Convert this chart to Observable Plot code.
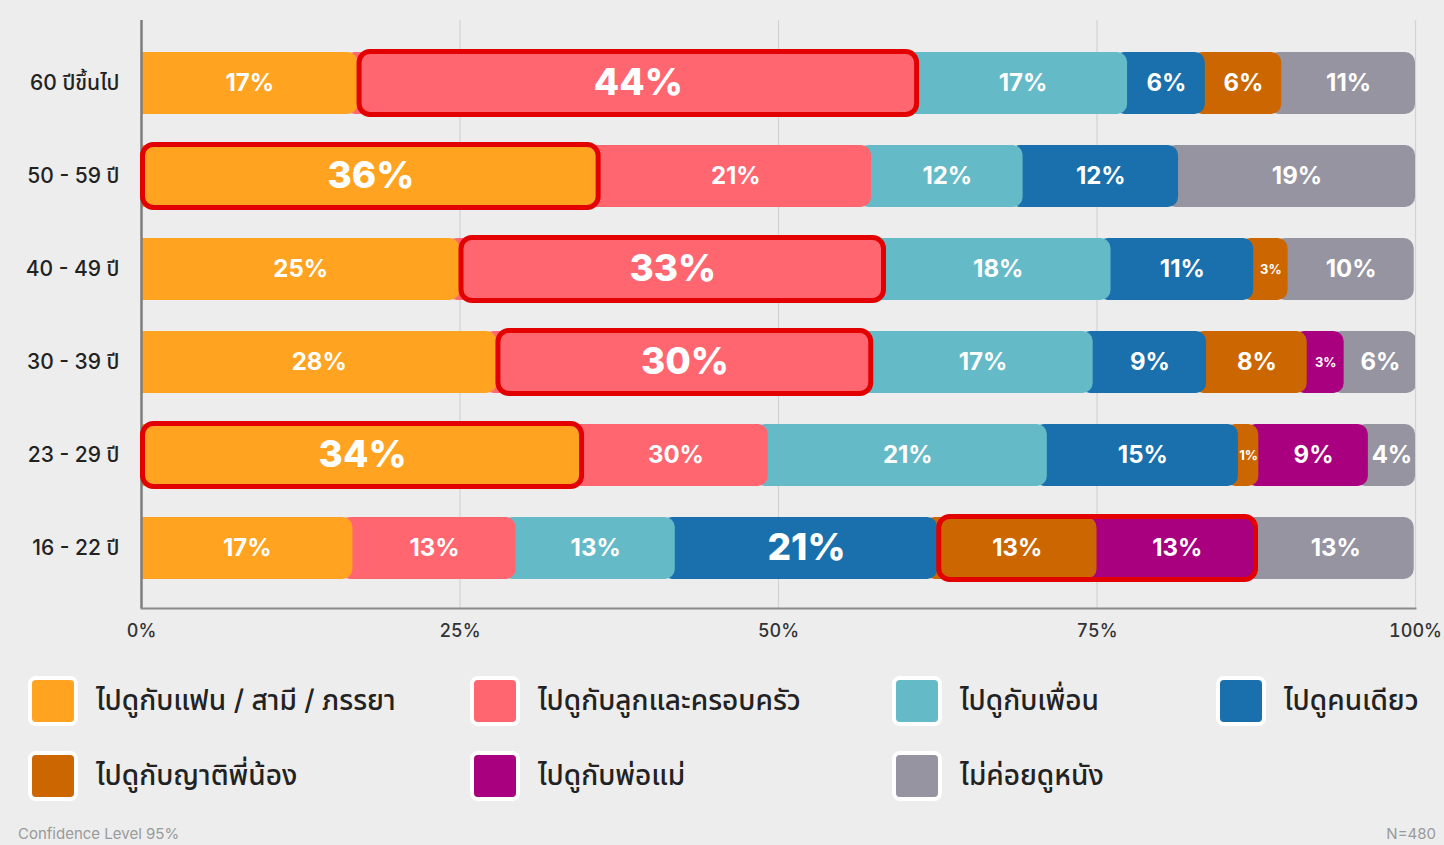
<!DOCTYPE html>
<html>
<head>
<meta charset="utf-8">
<script src="https://cdn.jsdelivr.net/npm/d3@7"></script>
<script src="https://cdn.jsdelivr.net/npm/@observablehq/plot@0.6"></script>
<style>
  html, body { margin: 0; padding: 0; background: #ECEDEC; }
  #wrap { position: relative; width: 1444px; height: 845px; overflow: hidden; background: #ECEDEC;
          font-family: Inter, "Noto Sans Thai", "Noto Sans", sans-serif; }
  #chart { position: absolute; left: 0; top: 0; }
  .legend-item { position: absolute; display: flex; align-items: center; height: 50px; }
  .sw { width: 42px; height: 42px; border: 4px solid #fff; border-radius: 8px; box-sizing: content-box; }
  .sw-inner { width: 42px; height: 42px; border-radius: 4px; }
  .lt { margin-left: 18px; font-size: 28px; font-weight: 500; color: #222; white-space: nowrap; }
  .foot { position: absolute; top: 824px; font-size: 15px; color: #9a9a9a; white-space: nowrap; }
  svg [aria-label="y-axis tick label"] text { font-size: 21px; font-weight: 500; fill: #222; }
  svg [aria-label="x-axis tick label"] text { font-size: 18px; font-weight: 500; fill: #333; }
</style>
</head>
<body>
<div id="wrap">
  <div id="chart"></div>
  <div id="legend"></div>
  <div class="foot" style="left:18px;">Confidence Level 95%</div>
  <div class="foot" style="right:8px;">N=480</div>
</div>
<script>
// Categories (top to bottom)
const ages = ["60 ปีขึ้นไป", "50 - 59 ปี", "40 - 49 ปี", "30 - 39 ปี", "23 - 29 ปี", "16 - 22 ปี"];

// Series names and colours
const seriesNames = [
  "ไปดูกับแฟน / สามี / ภรรยา",
  "ไปดูกับลูกและครอบครัว",
  "ไปดูกับเพื่อน",
  "ไปดูคนเดียว",
  "ไปดูกับญาติพี่น้อง",
  "ไปดูกับพ่อแม่",
  "ไม่ค่อยดูหนัง"
];
const seriesColors = ["#FFA320", "#FF6670", "#65BAC7", "#1A70AC", "#CC6600", "#A8007F", "#9694A1"];

// Bar widths (percent), one value per age group
const withPartner   = [17.0, 36.0, 25.0, 27.9, 34.7, 16.6];
const withFamily    = [44.0, 21.3, 33.4, 29.5, 14.5, 12.8];
const withFriends   = [16.4, 11.9, 17.7, 17.3, 21.9, 12.5];
const alone         = [ 6.1, 12.2, 11.2,  8.9, 15.0, 20.6];
const withRelatives = [ 6.0,  0.0,  2.7,  7.9,  1.6, 12.5];
const withParents   = [ 0.0,  0.0,  0.0,  2.9,  8.6, 12.6];
const rarelyWatch   = [10.5, 18.6,  9.9,  5.7,  3.7, 12.3];

// Printed labels per age group (as shown on the chart)
const printedLabels = [
  ["17%", "44%", "17%", "6%", "6%", "", "11%"],
  ["36%", "21%", "12%", "12%", "", "", "19%"],
  ["25%", "33%", "18%", "11%", "3%", "", "10%"],
  ["28%", "30%", "17%", "9%", "8%", "3%", "6%"],
  ["34%", "30%", "21%", "15%", "1%", "9%", "4%"],
  ["17%", "13%", "13%", "21%", "13%", "13%", "13%"]
];

// Highlighted (red box) ranges: first and last series index per age group
const highlightFrom = [1, 0, 1, 1, 0, 4];
const highlightTo   = [1, 0, 1, 1, 0, 5];

// x tick values
const xTicks = [0, 25, 50, 75, 100];

const seriesValues = [withPartner, withFamily, withFriends, alone, withRelatives, withParents, rarelyWatch];

const segs = [];
const boxes = [];
ages.forEach((age, i) => {
  let cum = 0;
  const rowVals = seriesValues.map(s => s[i]);
  const maxJ = rowVals.indexOf(Math.max(...rowVals));
  const starts = [], ends = [];
  rowVals.forEach((v, j) => {
    starts[j] = cum; ends[j] = cum + v;
    if (v > 0) {
      segs.push({age, j, start: cum, end: cum + v, value: v, label: printedLabels[i][j],
                 kind: j === maxJ ? "big" : (v < 3.5 ? "small" : "normal")});
    }
    cum += v;
  });
  boxes.push({age, start: starts[highlightFrom[i]], end: ends[highlightTo[i]]});
});

const drawOrder = segs.slice().sort((a, b) => b.j - a.j);
const mid = d => (d.start + d.end) / 2;

const chart = Plot.plot({
  width: 1444,
  height: 650,
  marginLeft: 141,
  marginRight: 29,
  marginTop: 20,
  marginBottom: 42,
  style: {background: "transparent", fontFamily: 'Inter, "Noto Sans Thai", "Noto Sans", sans-serif', color: "#222"},
  x: {domain: [0, 100], ticks: xTicks, tickFormat: d => d + "%", label: null, tickSize: 0, tickPadding: 16},
  y: {domain: ages, range: [23, 607], paddingInner: 0.335, paddingOuter: 0.3, label: null, tickSize: 0, tickPadding: 22},
  color: {type: "identity"},
  marks: [
    Plot.ruleX(xTicks.slice(1), {stroke: "#d2d3d2", strokeWidth: 1.2}),
    Plot.rect(drawOrder, {x1: d => d.start - 1, x2: "end", y: "age", fill: d => seriesColors[d.j], rx: 10, clip: true}),
    Plot.ruleX([0], {stroke: "#7d7d7d", strokeWidth: 2.5}),
    Plot.frame({anchor: "bottom", stroke: "#8a8a8a", strokeWidth: 2}),
    Plot.rect(boxes, {x1: "start", x2: "end", y: "age", fill: "none", stroke: "#E30000", strokeWidth: 5, rx: 11,
                      insetTop: -0.5, insetBottom: -0.5, insetLeft: 1.5, insetRight: 1.5}),
    Plot.text(segs.filter(d => d.kind === "normal"), {x: mid, y: "age", text: "label", fill: "white", fontSize: 24, fontWeight: 700}),
    Plot.text(segs.filter(d => d.kind === "big"), {x: mid, y: "age", text: "label", fill: "white", fontSize: 37, fontWeight: 800}),
    Plot.text(segs.filter(d => d.kind === "small"), {x: mid, y: "age", text: "label", fill: "white", fontSize: 13, fontWeight: 700})
  ]
});
document.getElementById("chart").appendChild(chart);

// Legend
const legendPos = [[28, 676], [470, 676], [892, 676], [1216, 676], [28, 751], [470, 751], [892, 751]];
const legend = document.getElementById("legend");
seriesNames.forEach((name, j) => {
  const item = document.createElement("div");
  item.className = "legend-item";
  item.style.left = legendPos[j][0] + "px";
  item.style.top = legendPos[j][1] + "px";
  item.innerHTML = `<div class="sw"><div class="sw-inner" style="background:${seriesColors[j]}"></div></div><div class="lt">${name}</div>`;
  legend.appendChild(item);
});
</script>
</body>
</html>
